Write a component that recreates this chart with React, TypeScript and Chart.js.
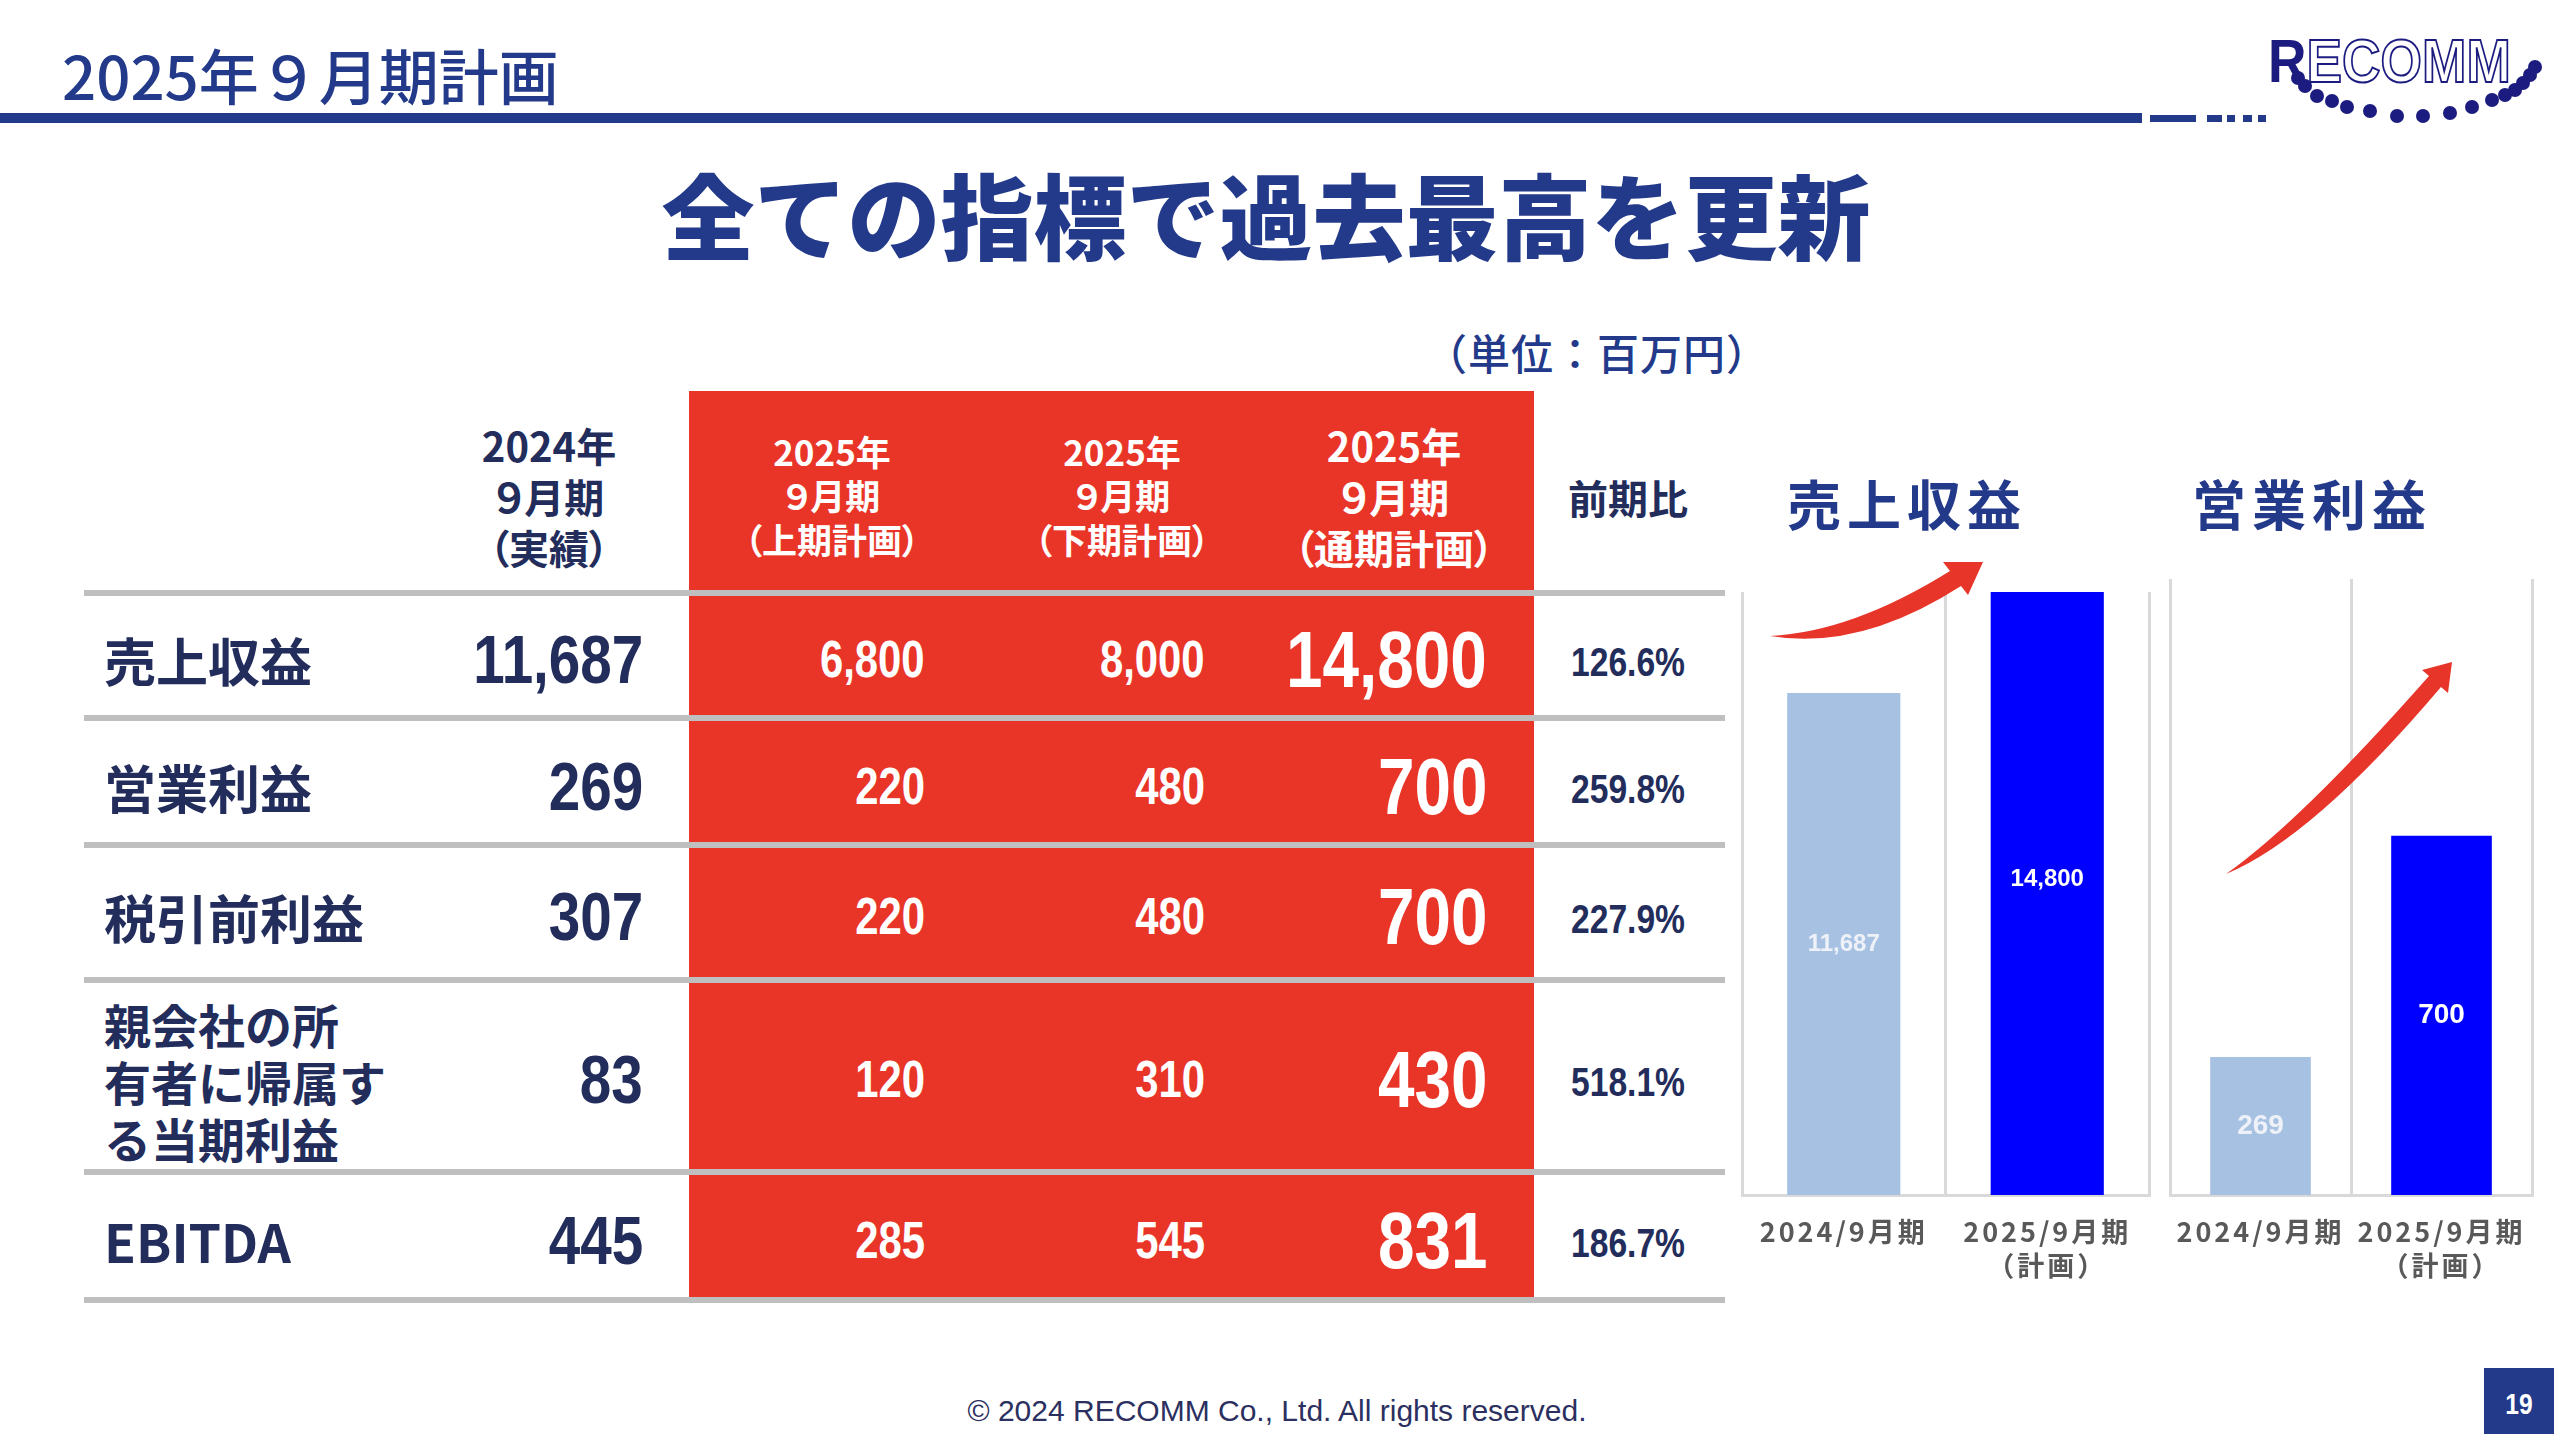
import React, { useEffect, useRef } from "react";
import { Chart, registerables } from "chart.js";
Chart.register(...registerables);

// ---------- data ----------
const rowLabels = ["売上収益", "営業利益", "税引前利益", "親会社の所\n有者に帰属す\nる当期利益", "EBITDA"];
const actual2024 = [11687, 269, 307, 83, 445];
const firstHalf2025 = [6800, 220, 220, 120, 285];
const secondHalf2025 = [8000, 480, 480, 310, 545];
const fullYear2025 = [14800, 700, 700, 430, 831];
const yoyRatio = ["126.6%", "259.8%", "227.9%", "518.1%", "186.7%"];

const chartCategories = [["2024/9月期"], ["2025/9月期", "（計画）"]];
const revenueValues = [11687, 14800];
const operatingProfitValues = [269, 700];

// ---------- styles ----------
const W = 2554;
const H = 1434;
const NAVY = "#233A8B";
const INK = "#232D5C";
const RED = "#E83528";
const GRAY_LINE = "#BFBFBF";
const JP = '"Noto Sans CJK JP", sans-serif';
const LAT = '"Liberation Sans", Arial, sans-serif';
const barColors = ["#A6C1E2", "#0000FF"];
const barLabelColors = ["#EEF2F8", "#FFFFFF"];

const fmt = (v: number) => v.toLocaleString("en-US");

type TxtProps = {
  x: number; y: number; align?: "left" | "right" | "center"; size: number; lh: number;
  weight?: number; color: string; family?: string; narrow?: boolean; ls?: number; palt?: boolean;
  children: string;
};
function Txt({ x, y, align = "left", size, lh, weight = 700, color, family = JP, narrow = false, ls = 0, palt = false, children }: TxtProps) {
  const n = children.split("\n").length;
  const style: any = {
    position: "absolute", top: y - (n * lh) / 2, lineHeight: lh + "px", fontSize: size,
    fontWeight: weight, color, fontFamily: family, whiteSpace: "pre", letterSpacing: ls,
  };
  if (align === "left") style.left = x;
  else if (align === "right") style.right = W - x;
  else { style.left = x - 1200; style.width = 2400; style.textAlign = "center"; }
  if (narrow) {
    style.transform = "scaleX(0.82)";
    style.transformOrigin = align === "left" ? "left center" : align === "right" ? "right center" : "center center";
  }
  if (palt) style.fontFeatureSettings = '"palt"';
  return <div style={style}>{children}</div>;
}

type Arrow = { tail: number[]; cu: number[]; cl: number[]; b1: number[]; b2: number[]; h1: number[]; tip: number[]; h2: number[] };

type PanelProps = {
  values: number[]; min: number; max: number; left: number; top: number; width: number; height: number;
  pad: { left: number; right: number; top: number; bottom: number }; labelSize: number; arrow: Arrow;
};

function BarPanel({ values, min, max, left, top, width, height, pad, labelSize, arrow }: PanelProps) {
  const ref = useRef<HTMLCanvasElement>(null);
  useEffect(() => {
    const spacing = {
      id: "spacing",
      beforeDraw(chart: any) { chart.ctx.letterSpacing = "3px"; },
    };
    const labels = {
      id: "barLabels",
      afterDatasetsDraw(chart: any) {
        const ctx = chart.ctx;
        const meta = chart.getDatasetMeta(0);
        meta.data.forEach((bar: any, i: number) => {
          const p = bar.getProps(["x", "y", "base"], true);
          ctx.save();
          ctx.letterSpacing = "0px";
          ctx.fillStyle = barLabelColors[i];
          ctx.font = `bold ${labelSize}px ${LAT}`;
          ctx.textAlign = "center";
          ctx.textBaseline = "middle";
          ctx.fillText(fmt(values[i]), p.x, (p.y + p.base) / 2 - (i === 1 && values[i] > 10000 ? 14 : 0));
          ctx.restore();
        });
      },
    };
    const arrowPlugin = {
      id: "arrow",
      afterDraw(chart: any) {
        const ctx = chart.ctx;
        const a = arrow;
        const P = (pt: number[]) => [pt[0] - left, pt[1] - top];
        ctx.save();
        ctx.fillStyle = "#E8352A";
        ctx.beginPath();
        const t = P(a.tail), cu = P(a.cu), cl = P(a.cl), b1 = P(a.b1), b2 = P(a.b2), h1 = P(a.h1), tp = P(a.tip), h2 = P(a.h2);
        ctx.moveTo(t[0], t[1]);
        ctx.quadraticCurveTo(cu[0], cu[1], b1[0], b1[1]);
        ctx.lineTo(h1[0], h1[1]);
        ctx.lineTo(tp[0], tp[1]);
        ctx.lineTo(h2[0], h2[1]);
        ctx.lineTo(b2[0], b2[1]);
        ctx.quadraticCurveTo(cl[0], cl[1], t[0], t[1]);
        ctx.closePath();
        ctx.fill();
        ctx.restore();
      },
    };
    const chart = new Chart(ref.current as HTMLCanvasElement, {
      type: "bar",
      data: {
        labels: chartCategories as any,
        datasets: [{
          data: values, backgroundColor: barColors, barPercentage: 0.556, categoryPercentage: 1, base: min,
        } as any],
      },
      options: {
        animation: false, responsive: false, maintainAspectRatio: false,
        layout: { padding: pad },
        plugins: { legend: { display: false }, tooltip: { enabled: false } },
        scales: {
          x: {
            grid: { offset: true, color: "#D9D9D9", lineWidth: 3, drawTicks: false },
            border: { display: true, color: "#D9D9D9", width: 3 },
            ticks: {
              color: "#595959", padding: 20, maxRotation: 0, autoSkip: false,
              font: { family: JP, size: 27, weight: "bold", lineHeight: 1.25 },
            },
            afterFit: (s: any) => { s.height = 97; },
          } as any,
          y: { display: false, min, max },
        },
      },
      plugins: [spacing, labels, arrowPlugin],
    });
    return () => chart.destroy();
  }, []);
  return <canvas ref={ref} width={width} height={height} style={{ position: "absolute", left, top, width, height }} />;
}

const rowCenters = [660, 787, 917, 1080, 1241];
const lineTops = [590, 715, 842, 977, 1169, 1297];
const logoDots = [
  [2298, 78, 7], [2305, 86, 7], [2317, 96, 7], [2332, 101, 7], [2347, 107, 7], [2370, 111, 7],
  [2397, 116, 7], [2423, 116, 7], [2450, 113, 7], [2472, 107, 7], [2492, 100, 7], [2505, 95, 7],
  [2515, 90, 7], [2523, 83, 7], [2530, 75, 7], [2535, 67, 7],
];
const dashes = [[2150, 2196], [2207, 2222], [2227, 2235], [2243, 2252], [2258, 2266]];

export default function App() {
  return (
    <div style={{ position: "absolute", left: 0, top: 0, width: W, height: H, background: "#fff", overflow: "hidden" }}>
      <svg width={W} height={140} style={{ position: "absolute", left: 0, top: 0 }}>
        <rect x={0} y={113} width={2142} height={10} fill={NAVY} />
        {dashes.map((d, i) => <rect key={i} x={d[0]} y={115} width={d[1] - d[0]} height={7} fill={NAVY} />)}
        {logoDots.map((d, i) => <circle key={i} cx={d[0]} cy={d[1]} r={d[2]} fill="#1C1C80" />)}
        <text transform="translate(2268,82) scale(0.86,1)" fontFamily={LAT} fontWeight="bold" fontSize={62}>
          <tspan fill="#1C1C80">R</tspan>
          <tspan fill="#ffffff" stroke="#1C1C80" strokeWidth={2}>ECOMM</tspan>
        </text>
      </svg>

      <Txt x={62} y={74} size={60} lh={64} weight={500} color={NAVY}>2025年９月期計画</Txt>
      <Txt x={1266} y={213} align="center" size={93} lh={100} weight={900} color={NAVY}>全ての指標で過去最高を更新</Txt>
      <Txt x={1425} y={352} size={42} lh={50} weight={500} color={NAVY} ls={1}>（単位：百万円）</Txt>

      {/* red block */}
      <div style={{ position: "absolute", left: 689, top: 391, width: 845, height: 906, background: RED }} />
      {lineTops.map((t, i) => (
        <div key={i} style={{ position: "absolute", left: 84, top: t, width: 1641, height: 6, background: GRAY_LINE }} />
      ))}

      {/* headers */}
      <Txt x={549} y={496} align="center" size={40} lh={51} color={INK} palt>{"2024年\n９月期\n（実績）"}</Txt>
      <Txt x={832} y={495} align="center" size={35} lh={44} color="#fff" palt>{"2025年\n９月期\n（上期計画）"}</Txt>
      <Txt x={1122} y={495} align="center" size={35} lh={44} color="#fff" palt>{"2025年\n９月期\n（下期計画）"}</Txt>
      <Txt x={1394} y={496} align="center" size={40} lh={51} color="#fff" palt>{"2025年\n９月期\n（通期計画）"}</Txt>
      <Txt x={1628} y={497} align="center" size={40} lh={51} color={INK}>前期比</Txt>

      {rowLabels.map((l, i) => (
        <Txt key={"l" + i} x={104} y={rowCenters[i]} size={l.includes("\n") ? 47 : 52} lh={l.includes("\n") ? 57 : 60} color={INK}>{l}</Txt>
      ))}
      {actual2024.map((v, i) => (
        <Txt key={"a" + i} x={643} y={rowCenters[i]} align="right" size={69} lh={76} color={INK} family={LAT} narrow>{fmt(v)}</Txt>
      ))}
      {firstHalf2025.map((v, i) => (
        <Txt key={"f" + i} x={925} y={rowCenters[i]} align="right" size={51} lh={60} color="#fff" family={LAT} narrow>{fmt(v)}</Txt>
      ))}
      {secondHalf2025.map((v, i) => (
        <Txt key={"s" + i} x={1205} y={rowCenters[i]} align="right" size={51} lh={60} color="#fff" family={LAT} narrow>{fmt(v)}</Txt>
      ))}
      {fullYear2025.map((v, i) => (
        <Txt key={"y" + i} x={1487} y={rowCenters[i]} align="right" size={80} lh={90} color="#fff" family={LAT} narrow>{fmt(v)}</Txt>
      ))}
      {yoyRatio.map((v, i) => (
        <Txt key={"r" + i} x={1628} y={rowCenters[i] + 2} align="center" size={41} lh={50} color={INK} family={LAT} narrow>{v}</Txt>
      ))}

      {/* chart titles */}
      <Txt x={1787} y={503} size={54} lh={60} color={NAVY} ls={6}>売上収益</Txt>
      <Txt x={2192} y={503} size={54} lh={60} color={NAVY} ls={6}>営業利益</Txt>

      <BarPanel
        values={revenueValues} min={-3800} max={14800}
        left={1722} top={540} width={450} height={772}
        pad={{ left: 20, right: 23, top: 52, bottom: 20 }} labelSize={24}
        arrow={{
          tail: [1770, 636], cu: [1852, 632], cl: [1860, 651], b1: [1950, 571], b2: [1961, 586],
          h1: [1943, 562], tip: [1983, 562], h2: [1968, 595],
        }}
      />
      <BarPanel
        values={operatingProfitValues} min={0} max={1200}
        left={2150} top={559} width={405} height={753}
        pad={{ left: 20, right: 23, top: 20, bottom: 20 }} labelSize={28}
        arrow={{
          tail: [2226, 874], cu: [2300, 822], cl: [2313, 838], b1: [2429, 676], b2: [2441, 687],
          h1: [2422, 670], tip: [2452, 662], h2: [2448, 693],
        }}
      />

      <Txt x={1277} y={1411} align="center" size={30} lh={36} weight={400} color="#2B3060" family={LAT}>© 2024 RECOMM Co., Ltd. All rights reserved.</Txt>
      <div style={{ position: "absolute", left: 2484, top: 1368, width: 70, height: 66, background: NAVY }} />
      <Txt x={2519} y={1404} align="center" size={30} lh={36} color="#fff" family={LAT} narrow>19</Txt>
    </div>
  );
}
